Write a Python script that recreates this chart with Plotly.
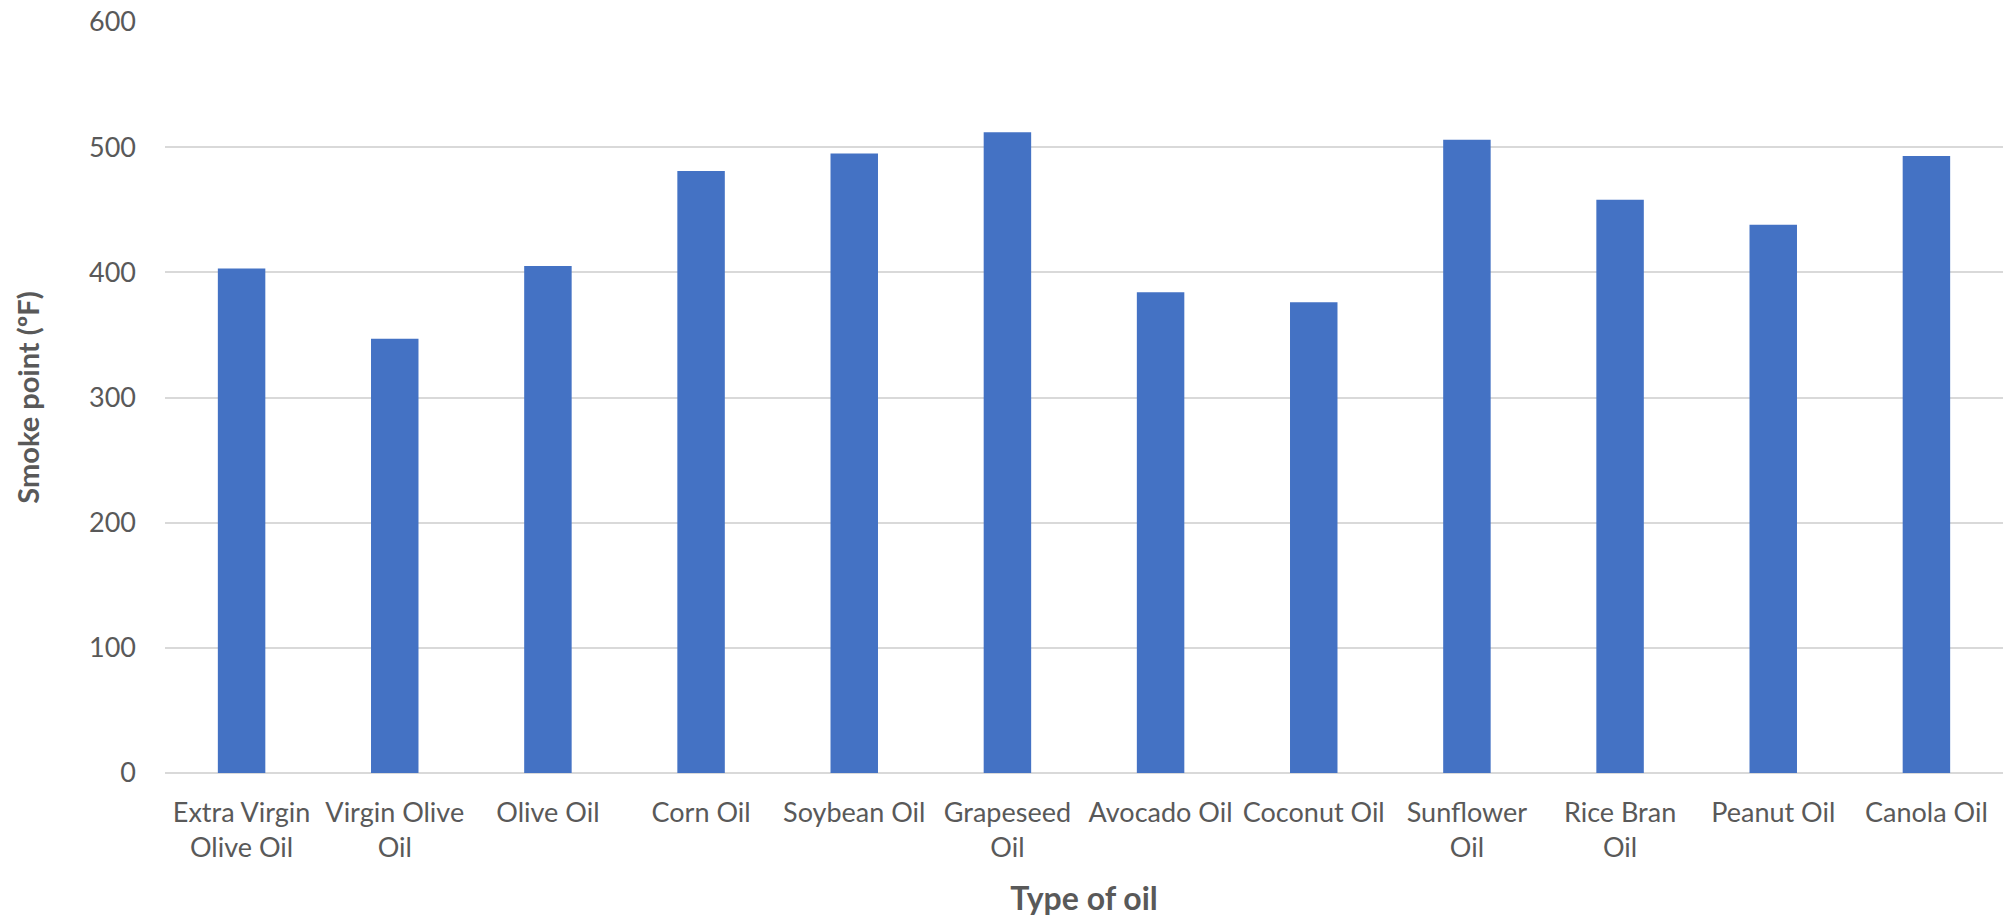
import plotly.graph_objects as go

# Smoke point of common cooking oils (degrees Fahrenheit)
oils = [
    "Extra Virgin Olive Oil", "Virgin Olive Oil", "Olive Oil", "Corn Oil",
    "Soybean Oil", "Grapeseed Oil", "Avocado Oil", "Coconut Oil",
    "Sunflower Oil", "Rice Bran Oil", "Peanut Oil", "Canola Oil",
]
smoke_point_f = [403, 347, 405, 481, 495, 512, 384, 376, 506, 458, 438, 493]

# Axis labels as they wrap under each bar
tick_labels = [
    "Extra Virgin<br>Olive Oil", "Virgin Olive<br>Oil", "Olive Oil", "Corn Oil",
    "Soybean Oil", "Grapeseed<br>Oil", "Avocado Oil", "Coconut Oil",
    "Sunflower<br>Oil", "Rice Bran<br>Oil", "Peanut Oil", "Canola Oil",
]
y_ticks = [0, 100, 200, 300, 400, 500, 600]

TEXT = "#595959"
GRID = "#D9D9D9"
BAR = "#4472C4"
FONT = "Lato, 'Open Sans', sans-serif"

fig = go.Figure(
    go.Bar(
        x=oils,
        y=smoke_point_f,
        marker=dict(color=BAR, line=dict(width=0)),
        width=0.31,
    )
)

fig.update_layout(
    width=2006,
    height=924,
    margin=dict(l=165, r=3, t=22, b=151),
    paper_bgcolor="white",
    plot_bgcolor="white",
    showlegend=False,
    font=dict(family=FONT, color=TEXT),
    xaxis=dict(
        tickmode="array",
        tickvals=oils,
        ticktext=tick_labels,
        tickfont=dict(size=27, color=TEXT, family=FONT),
        showgrid=False,
        showline=False,
        ticks="",
        ticklabelstandoff=21,
        title=dict(
            text="<b>Type of oil</b>",
            font=dict(size=32, color=TEXT, family=FONT),
            standoff=25,
        ),
    ),
    yaxis=dict(
        range=[0, 600],
        tickvals=y_ticks,
        tickfont=dict(size=27, color=TEXT, family=FONT),
        showgrid=True,
        gridcolor=GRID,
        gridwidth=1.5,
        zeroline=True,
        zerolinecolor=GRID,
        zerolinewidth=1.5,
        showline=False,
        ticks="",
        ticklabelstandoff=28,
        title=dict(
            text="<b>Smoke point (ºF)</b>",
            font=dict(size=29, color=TEXT, family=FONT),
            standoff=40,
        ),
    ),
)

fig.write_html("out.html")
